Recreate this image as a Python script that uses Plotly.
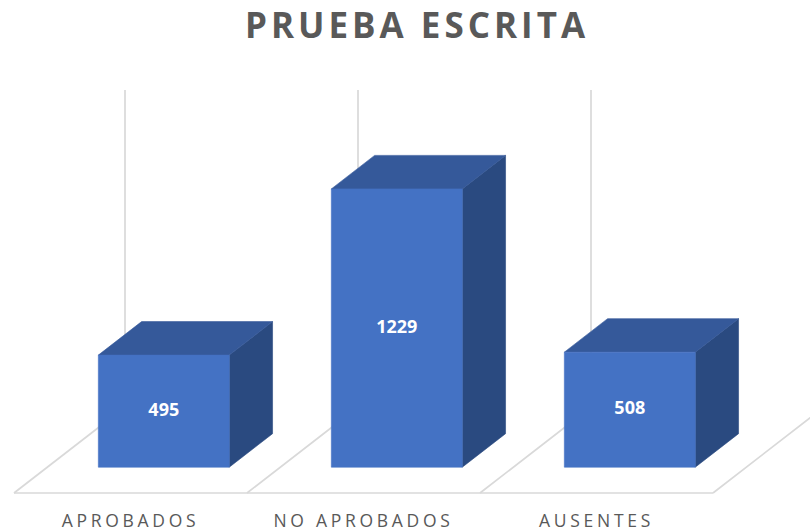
import plotly.graph_objects as go

# ---- data ----
categories = ["APROBADOS", "NO APROBADOS", "AUSENTES"]
values = [495, 1229, 508]
axis_max = 1400
title_text = "PRUEBA ESCRITA"

# ---- styling / geometry constants ----
W, H = 810, 531
PX_PER_CAT = 233.0
PX_PER_VAL = 317.0 / axis_max
FLOOR_FRONT_PX_X = 14.0      # left front corner of floor (pixels)
FLOOR_FRONT_PX_Y = 493.0     # floor front edge (pixels from top)
DEPTH_PX = (111.0, 86.0)     # oblique depth of the whole floor
Z0, Z1 = 0.30, 0.69          # bar depth position (fraction of floor depth)
HALF_W = 0.281               # half bar width in category units
MARGIN_B = 36

FRONT = "#4472C4"
TOP = "#35599A"
SIDE = "#2A4A80"
GRID = "#D9D9D9"
TXT = "#595959"

DX = DEPTH_PX[0] / PX_PER_CAT
DY = DEPTH_PX[1] / PX_PER_VAL

xmin = -0.5 - FLOOR_FRONT_PX_X / PX_PER_CAT
xmax = xmin + W / PX_PER_CAT
plot_h = H - MARGIN_B
ymin = -(plot_h - FLOOR_FRONT_PX_Y) / PX_PER_VAL
ymax = FLOOR_FRONT_PX_Y / PX_PER_VAL


def proj(x, v, z):
    return x + z * DX, v + z * DY


fig = go.Figure()

# floor + back-wall gridlines
n = len(categories)
bounds = [i - 0.5 for i in range(n + 1)]
for b in bounds:
    p0 = proj(b, 0, 0)
    p1 = proj(b, 0, 1)
    p2 = proj(b, axis_max, 1)
    fig.add_trace(go.Scatter(x=[p0[0], p1[0], p2[0]], y=[p0[1], p1[1], p2[1]],
                             mode="lines", line=dict(color=GRID, width=1.7),
                             hoverinfo="skip", showlegend=False))
fig.add_trace(go.Scatter(x=[bounds[0], bounds[-1]], y=[0, 0], mode="lines",
                         line=dict(color=GRID, width=1.7), hoverinfo="skip",
                         showlegend=False))


def poly(pts, color):
    xs = [p[0] for p in pts] + [pts[0][0]]
    ys = [p[1] for p in pts] + [pts[0][1]]
    fig.add_trace(go.Scatter(x=xs, y=ys, mode="lines", fill="toself",
                             fillcolor=color, line=dict(color=color, width=0.6),
                             hoverinfo="skip", showlegend=False))


lab_x, lab_y = [], []
for i, v in enumerate(values):
    xl, xr = i - HALF_W, i + HALF_W
    fbl = proj(xl, 0, Z0); fbr = proj(xr, 0, Z0)
    ftl = proj(xl, v, Z0); ftr = proj(xr, v, Z0)
    bbr = proj(xr, 0, Z1); btl = proj(xl, v, Z1); btr = proj(xr, v, Z1)
    poly([fbr, bbr, btr, ftr], SIDE)
    poly([ftl, ftr, btr, btl], TOP)
    poly([fbl, fbr, ftr, ftl], FRONT)
    c = proj(i, v / 2.0, Z0)
    lab_x.append(c[0]); lab_y.append(c[1])

fig.add_trace(go.Scatter(x=lab_x, y=lab_y, mode="text",
                         text=[str(v) for v in values],
                         textposition="middle center",
                         textfont=dict(color="white", size=18, family="Open Sans",
                                       weight="bold"),
                         hoverinfo="skip", showlegend=False))

fig.update_layout(
    width=W, height=H,
    margin=dict(l=0, r=0, t=0, b=MARGIN_B),
    paper_bgcolor="white", plot_bgcolor="white",
    showlegend=False,
    title=dict(text=title_text, x=417 / W, xanchor="center",
               y=1 - 26 / H, yanchor="middle",
               font=dict(family="Open Sans", size=35, color=TXT, weight="bold")),
    xaxis=dict(range=[xmin, xmax], showgrid=False, zeroline=False, showline=False,
               tickvals=list(range(n)), ticktext=categories, ticks="",
               ticklabelstandoff=13,
               tickfont=dict(family="Open Sans", size=17.5, color=TXT),
               fixedrange=True),
    yaxis=dict(range=[ymin, ymax], visible=False, fixedrange=True),
)

post = """
document.body.style.margin='0';
document.body.style.padding='0';
function _ls(){
  document.querySelectorAll('.gtitle').forEach(function(e){e.style.letterSpacing='4px';});
  document.querySelectorAll('.xtick text').forEach(function(e){e.style.letterSpacing='3.7px';});
}
_ls();
var gd = document.getElementById('{plot_id}');
if (gd && gd.on) { gd.on('plotly_afterplot', _ls); }
"""

fig.write_html("out.html", post_script=post, config={"displayModeBar": False})
